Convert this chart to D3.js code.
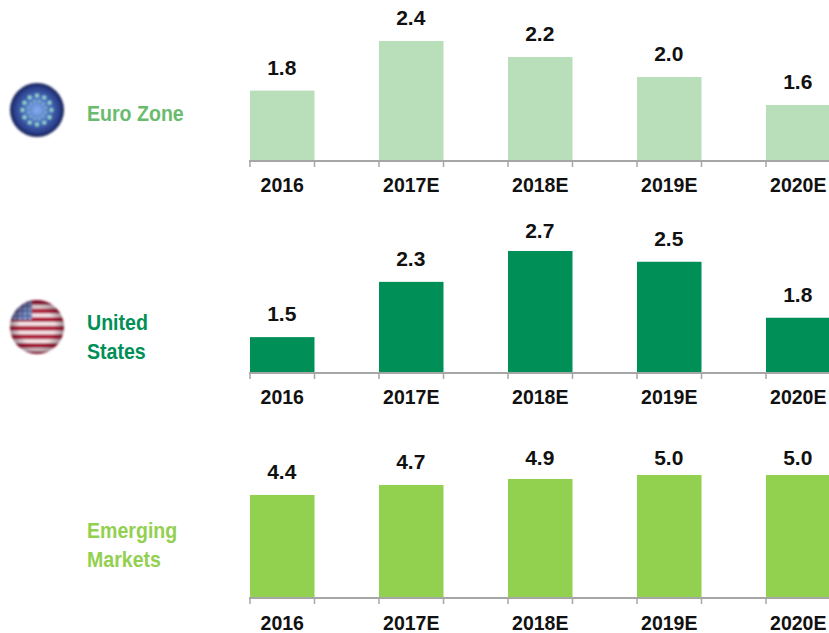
<!DOCTYPE html>
<html>
<head>
<meta charset="utf-8">
<script src="https://cdn.jsdelivr.net/npm/d3@7/dist/d3.min.js"></script>
<style>
  html, body { margin: 0; padding: 0; background: #fff; }
  svg { display: block; }
  text { font-family: "Liberation Sans", Arial, sans-serif; font-weight: bold; }
</style>
</head>
<body>
<div id="root"></div>
<script>
const years = ['2016', '2017E', '2018E', '2019E', '2020E'];

// labels printed above the bars
const euroLabels = ['1.8', '2.4', '2.2', '2.0', '1.6'];
const usLabels = ['1.5', '2.3', '2.7', '2.5', '1.8'];
const emLabels = ['4.4', '4.7', '4.9', '5.0', '5.0'];

// bar heights, the value axis does not start at zero
const euroValues = [1.78, 2.4, 2.2, 1.95, 1.6];
const usValues = [1.5, 2.27, 2.7, 2.55, 1.77];
const emValues = [4.4, 4.7, 4.88, 5.0, 5.0];

const width = 829;
const height = 633;

const svg = d3.select('#root').append('svg')
  .attr('width', width)
  .attr('height', height);

const defs = svg.append('defs');

const x = d3.scaleBand()
  .domain(years)
  .range([250, 830.5])
  .paddingInner(0.5);

function panel(opts) {
  const y = d3.scaleLinear().domain(opts.domain).range(opts.range);
  const base = opts.range[0];
  const g = svg.append('g');

  g.selectAll('rect')
    .data(opts.values)
    .join('rect')
    .attr('x', (d, i) => x(years[i]))
    .attr('y', d => y(d))
    .attr('width', x.bandwidth())
    .attr('height', d => base - y(d))
    .attr('fill', opts.color);

  // the tallest labels sit closer to their bars, they stop at labelTop
  g.selectAll('.value')
    .data(opts.labels)
    .join('text')
    .attr('class', 'value')
    .attr('x', (d, i) => x(years[i]) + x.bandwidth() / 2 - 0.5)
    .attr('y', (d, i) => Math.max(y(opts.values[i]) - 16, opts.labelTop))
    .attr('text-anchor', 'middle')
    .attr('font-size', 21)
    .attr('fill', '#111')
    .text(d => d);

  // axis line with a tick on both edges of each bar
  const axis = g.append('g').attr('transform', `translate(0,${base})`);
  axis.append('line')
    .attr('x1', x(years[0]) - 1)
    .attr('x2', width)
    .attr('stroke', '#a6a6a6')
    .attr('stroke-width', 2);
  const edges = years.flatMap(d => [x(d), x(d) + x.bandwidth()]);
  axis.selectAll('.edge')
    .data(edges)
    .join('line')
    .attr('class', 'edge')
    .attr('x1', d => d)
    .attr('x2', d => d)
    .attr('y1', 0)
    .attr('y2', 6)
    .attr('stroke', '#a6a6a6')
    .attr('stroke-width', 1.5);

  g.selectAll('.year')
    .data(years)
    .join('text')
    .attr('class', 'year')
    .attr('x', d => x(d) + x.bandwidth() / 2)
    .attr('y', base + opts.yearGap)
    .attr('text-anchor', 'middle')
    .attr('font-size', 19.5)
    .attr('fill', '#111')
    .text(d => d);

  // series names are tall and narrow in the original
  g.selectAll('.name')
    .data(opts.name)
    .join('text')
    .attr('class', 'name')
    .attr('transform', (d, i) => `translate(87,${opts.nameY + i * 29}) scale(0.89,1)`)
    .attr('font-size', 22)
    .attr('fill', opts.nameColor)
    .text(d => d);
}

panel({
  values: euroValues, labels: euroLabels, color: '#b8dfba',
  domain: [0.9, 2.4], range: [161, 41], yearGap: 31, labelTop: 0,
  name: ['Euro Zone'], nameColor: '#69bb6d', nameY: 121
});
panel({
  values: usValues, labels: usLabels, color: '#009057',
  domain: [1.0, 2.7], range: [373, 251], yearGap: 31, labelTop: 238,
  name: ['United', 'States'], nameColor: '#009057', nameY: 330
});
panel({
  values: emValues, labels: emLabels, color: '#92d050',
  domain: [1.3, 5.0], range: [598, 475], yearGap: 32, labelTop: 465,
  name: ['Emerging', 'Markets'], nameColor: '#92d050', nameY: 538
});

// round flag badges
const blur = defs.append('filter').attr('id', 'soft');
blur.append('feGaussianBlur').attr('stdDeviation', 0.8);

const euroGrad = defs.append('radialGradient').attr('id', 'euroGrad');
euroGrad.append('stop').attr('offset', '0%').attr('stop-color', '#86aef0');
euroGrad.append('stop').attr('offset', '55%').attr('stop-color', '#4466b4');
euroGrad.append('stop').attr('offset', '85%').attr('stop-color', '#2a3d88');
euroGrad.append('stop').attr('offset', '100%').attr('stop-color', '#141e50');

const euro = svg.append('g').attr('transform', 'translate(37,110)').attr('filter', 'url(#soft)');
euro.append('circle').attr('r', 27).attr('fill', 'url(#euroGrad)');
euro.selectAll('circle.star')
  .data(d3.range(12))
  .join('circle')
  .attr('class', 'star')
  .attr('cx', d => 14.5 * Math.cos(d * Math.PI / 6))
  .attr('cy', d => 14.5 * Math.sin(d * Math.PI / 6))
  .attr('r', 1.9)
  .attr('fill', '#9adccb');
euro.selectAll('circle.inner')
  .data(d3.range(12))
  .join('circle')
  .attr('class', 'inner')
  .attr('cx', d => 9 * Math.cos((d + 0.5) * Math.PI / 6))
  .attr('cy', d => 9 * Math.sin((d + 0.5) * Math.PI / 6))
  .attr('r', 1.2)
  .attr('fill', '#86cfc4')
  .attr('opacity', 0.8);

defs.append('clipPath').attr('id', 'usClip')
  .append('circle').attr('r', 27);

const usShade = defs.append('radialGradient').attr('id', 'usShade');
usShade.append('stop').attr('offset', '65%').attr('stop-color', '#000').attr('stop-opacity', 0);
usShade.append('stop').attr('offset', '100%').attr('stop-color', '#300018').attr('stop-opacity', 0.4);

const us = svg.append('g').attr('transform', 'translate(37,327)').attr('filter', 'url(#soft)');
const usFlag = us.append('g').attr('clip-path', 'url(#usClip)');
usFlag.append('rect').attr('x', -27).attr('y', -27).attr('width', 54).attr('height', 54).attr('fill', '#f6e8ec');
usFlag.selectAll('rect.stripe')
  .data(d3.range(7))
  .join('rect')
  .attr('class', 'stripe')
  .attr('x', -27)
  .attr('y', d => -27 + d * 8.6)
  .attr('width', 54)
  .attr('height', 4.8)
  .attr('fill', '#ad1a3a');
usFlag.append('rect').attr('x', -27).attr('y', -27).attr('width', 22).attr('height', 20).attr('fill', '#5a70ab');
usFlag.selectAll('circle.star')
  .data(d3.range(16))
  .join('circle')
  .attr('class', 'star')
  .attr('cx', d => -22 + (d % 4) * 5)
  .attr('cy', d => -23 + Math.floor(d / 4) * 4.8)
  .attr('r', 0.9)
  .attr('fill', '#d5dcee');
us.append('circle').attr('r', 27).attr('fill', 'url(#usShade)');
</script>
</body>
</html>
